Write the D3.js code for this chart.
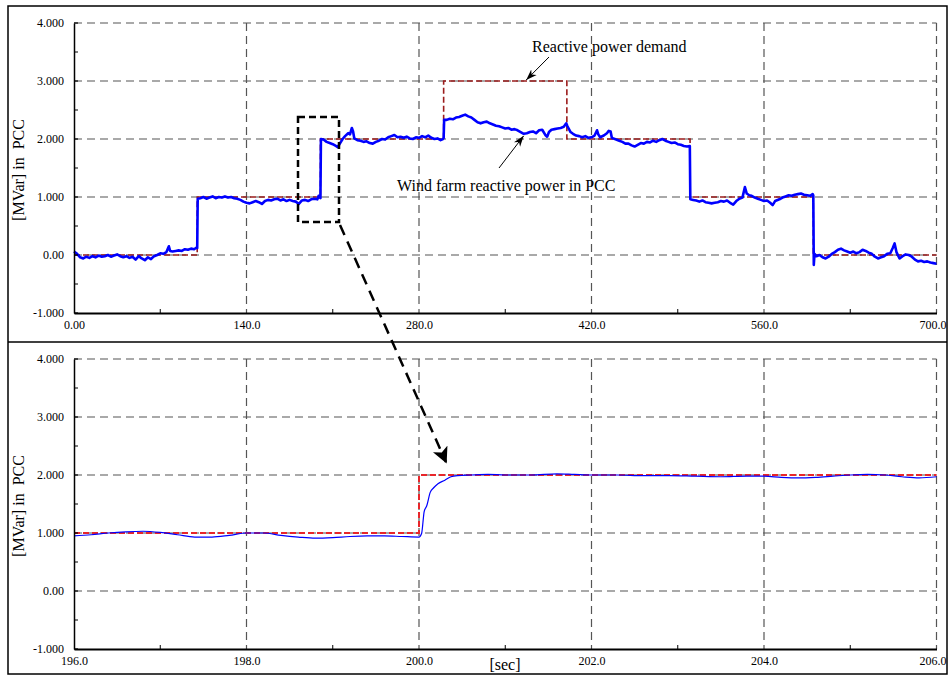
<!DOCTYPE html>
<html><head><meta charset="utf-8">
<script src="https://cdn.jsdelivr.net/npm/d3@7"></script>
<style>
body{margin:0;background:#fff}
svg{display:block}
text{font-family:"Liberation Serif","Times New Roman",serif;fill:#000}
</style>
</head><body><svg id="c" width="948" height="675"></svg>
<script>
// ---------- data ----------
const yTickValues = [4, 3, 2, 1, 0, -1];
const yTickLabels = ["4.000", "3.000", "2.000", "1.000", "0.00", "-1.000"];
const topXTicks = [0, 140, 280, 420, 560, 700];
const topXLabels = ["0.00", "140.0", "280.0", "420.0", "560.0", "700.0"];
const botXTicks = [196, 198, 200, 202, 204, 206];
const botXLabels = ["196.0", "198.0", "200.0", "202.0", "204.0", "206.0"];

const demandTop = [[0,0],[100,0],[100,1],[200,1],[200,2],[300,2],[300,3],[400,3],[400,2],[500,2],[500,1],[600,1],[600,0],[700,0]];
const windTop = [
 [0,0.06],[2.5,0.02],[5,-0.04],[7.5,-0.06],[10,-0.03],[12.5,-0.05],[15,-0.02],[17.5,-0.04],[20,-0.01],[22.5,-0.03],
 [25,-0.02],[27.5,0.0],[30,-0.03],[32.5,-0.01],[35,0.01],[37.5,-0.02],[40,-0.04],[42.5,-0.02],[45,-0.05],[47.5,-0.03],
 [50,-0.08],[52.5,-0.02],[55,-0.06],[57.5,-0.09],[60,-0.04],[62.5,-0.07],[65,-0.02],[67.5,0.0],[70,0.03],[72.5,0.02],
 [75,0.05],[77,0.15],[78,0.07],[80,0.06],[82.5,0.07],[85,0.08],[87.5,0.07],[90,0.10],[92.5,0.09],[95,0.11],[97.5,0.10],
 [99.5,0.13],[100,0.12],[100.4,0.97],
 [102.5,0.98],[105,1.0],[107.5,0.97],[110,0.99],[112.5,1.01],[115,0.98],[117.5,1.0],[120,0.99],[122.5,1.01],[125,0.99],
 [127.5,1.0],[130,0.98],[132.5,0.97],[135,0.95],[137.5,0.92],[140,0.90],[142.5,0.89],[145,0.91],[147.5,0.93],[150,0.91],
 [152.5,0.88],[155,0.93],[157.5,0.95],[160,0.94],[162.5,0.96],[165,0.97],[167.5,0.94],[170,0.96],[172.5,0.93],[175,0.95],
 [177.5,0.93],[180,0.92],[182.5,0.88],[185,0.94],[187.5,0.95],[190,0.93],[192.5,0.96],[195,0.97],[197.5,0.96],[198.5,1.02],
 [199.5,0.99],[200,0.98],[200.4,2.0],
 [202.5,1.99],[205,1.95],[207.5,1.93],[210,1.91],[212.5,1.88],[214,1.86],[216,1.93],[218,2.0],[220,2.05],[222.5,2.1],
 [224,2.08],[225.5,2.19],[226.5,2.13],[227.5,2.01],[230,1.98],[232.5,1.97],[235,1.95],[237.5,1.96],[240,1.93],[242.5,1.92],
 [245,1.95],[247.5,1.97],[250,2.0],[252.5,1.99],[255,2.03],[257.5,2.05],[260,2.07],[262.5,2.03],[265,2.04],[267.5,2.02],
 [270,2.04],[272.5,2.01],[275,2.0],[277.5,2.03],[280,2.02],[282.5,2.05],[285,2.03],[287.5,2.06],[290,2.02],[292.5,2.0],
 [295,2.01],[297.5,1.98],[299.5,2.0],[300,2.02],[300.4,2.33],
 [302.5,2.33],[305,2.35],[307.5,2.34],[310,2.37],[312.5,2.38],[315,2.40],[317.5,2.42],[320,2.39],[322.5,2.37],[325,2.33],
 [327.5,2.29],[330,2.27],[332.5,2.29],[335,2.30],[337.5,2.27],[340,2.25],[342.5,2.23],[345,2.22],[347.5,2.20],[350,2.18],
 [352.5,2.19],[355,2.16],[357.5,2.17],[360,2.15],[362.5,2.12],[365,2.09],[367.5,2.10],[370,2.12],[372.5,2.13],[375,2.10],
 [377.5,2.15],[380,2.16],[382.5,2.07],[384,2.04],[385.5,2.12],[387.5,2.16],[390,2.17],[392.5,2.18],[395,2.19],[397.5,2.21],
 [399.5,2.27],[400.5,2.22],[403,2.12],[405,2.09],[407.5,2.06],[410,2.05],[412.5,2.03],[415,2.05],[417.5,2.02],[420,2.03],
 [422.5,2.06],[424.5,2.15],[425.5,2.08],[427,2.03],[430,2.06],[432.5,2.10],[434,2.14],[435.5,2.13],[436.5,2.02],[440,1.99],
 [442.5,1.97],[445,1.95],[447.5,1.92],[450,1.92],[452.5,1.89],[455,1.87],[457.5,1.90],[460,1.93],[462.5,1.92],[465,1.95],
 [467.5,1.94],[470,1.97],[472.5,1.95],[475,1.98],[477.5,2.0],[480,1.97],[482.5,1.95],[485,1.93],[487.5,1.94],[490,1.91],
 [492.5,1.90],[495,1.88],[497.5,1.87],[499.8,1.88],[500.2,0.96],
 [502.5,0.95],[505,0.94],[507.5,0.92],[510,0.94],[512.5,0.91],[515,0.90],[517.5,0.89],[520,0.90],[522.5,0.91],[525,0.93],
 [527.5,0.92],[530,0.94],[532.5,0.90],[535,0.87],[537.5,0.93],[540,0.97],[542.5,0.99],[544.5,1.17],[546,1.06],[548,1.03],
 [550,1.02],[552.5,0.99],[555,0.97],[557.5,0.95],[560,0.93],[562.5,0.94],[565,0.90],[567,0.86],[569,0.93],[572.5,0.96],
 [575,0.99],[577.5,1.01],[580,1.03],[582.5,1.02],[585,1.04],[587.5,1.05],[590,1.06],[592.5,1.04],[595,1.03],[597.5,1.02],
 [599.5,1.05],[600,1.03],[600.4,-0.17],[601,0.02],
 [602.5,-0.02],[605,0.0],[607.5,-0.04],[610,-0.06],[612.5,-0.03],[615,0.02],[617.5,0.05],[620,0.09],[622.5,0.11],[625,0.08],
 [627.5,0.06],[630,0.04],[632.5,0.06],[635,0.03],[637.5,0.05],[640,0.09],[642.5,0.07],[645,0.04],[647.5,0.02],[650,-0.03],
 [652.5,-0.06],[655,-0.04],[657.5,-0.02],[660,0.02],[662.5,0.03],[664.5,0.12],[666,0.20],[667.5,0.05],[670,-0.06],[672.5,-0.02],
 [675,0.01],[677.5,0.0],[680,-0.03],[682.5,-0.08],[685,-0.11],[687.5,-0.10],[690,-0.12],[692.5,-0.11],[695,-0.13],[697.5,-0.14],
 [700,-0.15]
];

const demandBot = [[196,1],[200,1],[200,2],[206,2]];
const windBot = [
 [196.0,0.95],[196.2,0.97],[196.4,1.0],[196.6,1.02],[196.8,1.03],[197.0,1.01],[197.2,0.97],[197.4,0.93],[197.6,0.93],[197.8,0.96],
 [198.0,1.0],[198.2,1.0],[198.4,0.96],[198.6,0.93],[198.8,0.91],[199.0,0.92],[199.2,0.94],[199.4,0.95],[199.6,0.95],[199.8,0.94],
 [200.0,0.93],[200.03,0.99],[200.06,1.37],[200.09,1.47],[200.13,1.70],[200.17,1.78],[200.22,1.85],[200.3,1.91],[200.37,1.97],[200.45,1.99],
 [200.6,2.0],[200.8,2.01],[201.0,2.0],[201.3,2.0],[201.6,2.02],[201.8,2.01],[202.0,2.0],[202.3,2.0],[202.6,1.99],[202.9,1.99],
 [203.2,1.98],[203.5,1.97],[203.8,1.98],[204.0,1.98],[204.2,1.96],[204.4,1.95],[204.6,1.96],[204.8,1.98],[205.0,2.0],[205.2,2.01],
 [205.4,2.0],[205.6,1.97],[205.8,1.95],[206.0,1.97]
];

const annDemand = "Reactive power demand";
const annWind = "Wind farm reactive power in PCC";
const yTitle = "[MVar] in  PCC";
const xTitle = "[sec]";

// ---------- drawing ----------
const svg = d3.select("#c");
const defs = svg.append("defs");
defs.append("marker").attr("id","thin").attr("viewBox","0 0 10 10").attr("refX",10).attr("refY",5)
  .attr("markerWidth",11).attr("markerHeight",11).attr("markerUnits","userSpaceOnUse").attr("orient","auto")
  .append("path").attr("d","M0,1.5 L10,5 L0,8.5 L3,5 Z").attr("fill","#000");
defs.append("marker").attr("id","thick").attr("viewBox","0 0 10 10").attr("refX",9).attr("refY",5)
  .attr("markerWidth",16).attr("markerHeight",16).attr("markerUnits","userSpaceOnUse").attr("orient","auto")
  .append("path").attr("d","M0,0 L10,5 L0,10 L2.5,5 Z").attr("fill","#000");

// frame
svg.append("rect").attr("x",8).attr("y",6).attr("width",939).attr("height",668)
  .attr("fill","none").attr("stroke","#000").attr("stroke-width",1.5);
svg.append("line").attr("x1",8).attr("x2",947).attr("y1",342).attr("y2",342)
  .attr("stroke","#000").attr("stroke-width",1.5);

function panel(cfg) {
  const x = d3.scaleLinear().domain(cfg.xDomain).range([74, 936.5]);
  const y = d3.scaleLinear().domain([-1, 4]).range([cfg.bottom, cfg.bottom - 290]);
  const g = svg.append("g");
  // grid
  g.selectAll(".hg").data(yTickValues.filter(v => v > -1)).join("line")
    .attr("x1", x.range()[0]).attr("x2", x.range()[1]).attr("y1", d => y(d)).attr("y2", d => y(d))
    .attr("stroke","#555").attr("stroke-width",1.2).attr("stroke-dasharray","8,5");
  g.selectAll(".vg").data(cfg.xTicks.slice(1)).join("line")
    .attr("x1", d => x(d)).attr("x2", d => x(d)).attr("y1", y(4)).attr("y2", y(-1))
    .attr("stroke","#555").attr("stroke-width",1.2).attr("stroke-dasharray","8,5");
  // series
  const line = d3.line().x(d => x(d[0])).y(d => y(d[1]));
  cfg.draw(g, x, y, line);
  // axes
  const ya = d3.axisLeft(y).tickValues(yTickValues).tickSize(0).tickPadding(10)
    .tickFormat((d,i) => yTickLabels[i]);
  const yg = g.append("g").attr("transform", `translate(${x.range()[0]},0)`).call(ya);
  yg.select(".domain").attr("stroke","#000").attr("stroke-width",1.5);
  yg.selectAll("text").style("font-size","12px").style("font-family","Liberation Serif");
  const xa = d3.axisBottom(x).tickValues(cfg.xTicks).tickSize(0).tickPadding(7)
    .tickFormat((d,i) => cfg.xLabels[i]);
  const xg = g.append("g").attr("transform", `translate(0,${y(-1)})`).call(xa);
  xg.select(".domain").attr("stroke","#000").attr("stroke-width",2);
  xg.selectAll("text").style("font-size","12px").style("font-family","Liberation Serif");
  // keep the last label inside the frame
  xg.selectAll(".tick").filter((d,i) => i === cfg.xTicks.length - 1).select("text")
    .attr("text-anchor","end").attr("dx", 9.5);
  // minor ticks
  const yMinor = d3.range(-0.5, 4, 1);
  g.selectAll(".ym").data(yMinor).join("line")
    .attr("x1", x.range()[0]).attr("x2", x.range()[0] + 4).attr("y1", d => y(d)).attr("y2", d => y(d))
    .attr("stroke","#000").attr("stroke-width",1);
  g.selectAll(".ymj").data(yTickValues).join("line")
    .attr("x1", x.range()[0]).attr("x2", x.range()[0] + 4).attr("y1", d => y(d)).attr("y2", d => y(d))
    .attr("stroke","#000").attr("stroke-width",1.2);
  const xMinor = d3.pairs(cfg.xTicks).map(p => (p[0] + p[1]) / 2);
  g.selectAll(".xm").data(xMinor).join("line")
    .attr("x1", d => x(d)).attr("x2", d => x(d)).attr("y1", y(-1)).attr("y2", y(-1) - 4)
    .attr("stroke","#000").attr("stroke-width",1);
  // y title
  g.append("text").attr("transform", `translate(24,${cfg.bottom - 143}) rotate(-90)`)
    .attr("text-anchor","middle").style("font-size","16px").style("white-space","pre")
    .text(yTitle);
  return {x, y, g};
}

const topPanel = panel({
  xDomain: [0, 700], bottom: 313, xTicks: topXTicks, xLabels: topXLabels,
  draw: (g, x, y, line) => {
    g.append("path").datum(demandTop).attr("d", line).attr("fill","none")
      .attr("stroke","#9b1c1c").attr("stroke-width",1.6).attr("stroke-dasharray","6,3");
    g.append("path").datum(windTop).attr("d", line).attr("fill","none")
      .attr("stroke","#0000ff").attr("stroke-width",2.6).attr("stroke-linejoin","round");
  }
});

const botPanel = panel({
  xDomain: [196, 206], bottom: 649, xTicks: botXTicks, xLabels: botXLabels,
  draw: (g, x, y, line) => {
    g.append("path").datum(demandBot).attr("d", line).attr("fill","none")
      .attr("stroke","#e8262a").attr("stroke-width",2).attr("stroke-dasharray","6,3");
    g.append("path").datum(windBot).attr("d", line.curve(d3.curveMonotoneX)).attr("fill","none")
      .attr("stroke","#0000ff").attr("stroke-width",1.2);
  }
});

// x title
svg.append("text").attr("x", 505).attr("y", 670).attr("text-anchor","middle")
  .style("font-size","16px").text(xTitle);

// annotations
svg.append("text").attr("x", 532).attr("y", 52).style("font-size","16px").text(annDemand);
svg.append("line").attr("x1", 549).attr("y1", 57).attr("x2", topPanel.x(367)).attr("y2", topPanel.y(3) - 1)
  .attr("stroke","#000").attr("stroke-width",1).attr("marker-end","url(#thin)");
svg.append("text").attr("x", 397).attr("y", 191).style("font-size","16px").text(annWind);
svg.append("line").attr("x1", 499).attr("y1", 168).attr("x2", topPanel.x(365)).attr("y2", topPanel.y(2.09) + 2)
  .attr("stroke","#000").attr("stroke-width",1).attr("marker-end","url(#thin)");

// zoom box and arrow
svg.append("rect").attr("x", 298).attr("y", 117).attr("width", 41).attr("height", 105)
  .attr("fill","none").attr("stroke","#000").attr("stroke-width",2.5).attr("stroke-dasharray","7,4");
svg.append("line").attr("x1", 340).attr("y1", 225).attr("x2", 446).attr("y2", 462)
  .attr("stroke","#000").attr("stroke-width",2.5).attr("stroke-dasharray","11,7").attr("marker-end","url(#thick)");
</script>
</body></html>
